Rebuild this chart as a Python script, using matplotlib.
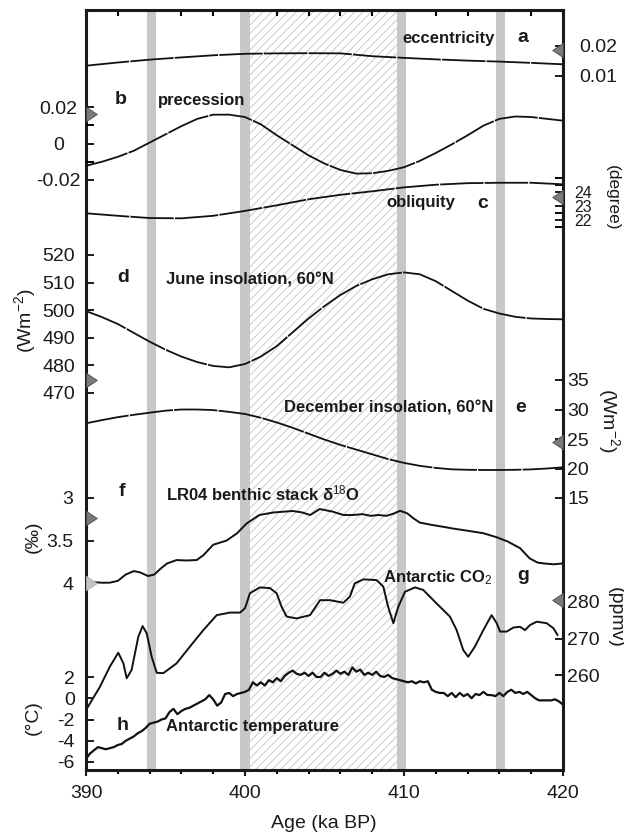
import numpy as np
import matplotlib
matplotlib.use('Agg')
import matplotlib.pyplot as plt
from matplotlib.path import Path
from matplotlib.ticker import MultipleLocator, FixedLocator, NullFormatter

plt.rcParams['font.family'] = ['Liberation Sans', 'DejaVu Sans']
plt.rcParams['mathtext.fontset'] = 'custom'
plt.rcParams['mathtext.rm'] = 'Liberation Sans'
plt.rcParams['mathtext.it'] = 'Liberation Sans:italic'
plt.rcParams['mathtext.bf'] = 'Liberation Sans:bold'
plt.rcParams['hatch.linewidth'] = 0.6

# ---------------- data ----------------
ecc_age = [390, 392, 394, 396, 398, 400, 402, 404, 406, 408, 410, 412, 414, 416, 418, 420]
ecc_val = [0.01343, 0.0145, 0.01545, 0.0162, 0.0169, 0.0174, 0.01755, 0.0176, 0.01755,
           0.0166, 0.01604, 0.01555, 0.01513, 0.0148, 0.01438, 0.0139]

prec_age = list(range(390, 421))
prec_val = [-0.0122, -0.0100, -0.0073, -0.0040, 0.0005, 0.0050, 0.0095, 0.0135, 0.0158,
            0.0158, 0.0145, 0.0105, 0.0045, -0.0010, -0.0065, -0.0110, -0.0145, -0.0165,
            -0.0163, -0.0150, -0.0130, -0.0095, -0.0052, -0.0005, 0.0045, 0.0098, 0.0135,
            0.0148, 0.0145, 0.0135, 0.0125]

obl_age = [390, 392, 394, 396, 398, 400, 402, 404, 406, 408, 410, 412, 414, 416, 418, 420]
obl_val = [22.48, 22.3, 22.14, 22.12, 22.3, 22.65, 23.05, 23.48, 23.8, 24.05, 24.33,
           24.52, 24.63, 24.66, 24.66, 24.55]

june_age = list(range(390, 421))
june_val = [499.7, 497.5, 495.0, 491.8, 488.6, 485.7, 483.2, 481.2, 479.8, 479.3, 480.5,
            483.2, 487.0, 492.0, 497.0, 501.5, 505.5, 508.8, 511.2, 513.0, 513.7, 513.0,
            510.5, 507.0, 503.5, 500.5, 498.8, 497.6, 497.0, 496.8, 496.7]

dec_age = list(range(390, 421))
dec_val = [27.66, 28.2, 28.7, 29.1, 29.46, 29.8, 30.0, 30.0, 29.9, 29.6, 29.24, 28.6, 27.8,
           26.9, 25.9, 24.9, 24.0, 23.2, 22.4, 21.6, 20.95, 20.45, 20.1, 19.86, 19.78,
           19.75, 19.75, 19.78, 19.85, 20.0, 20.2]

lr04_age = [390.0, 390.5, 391.0, 391.5, 392.0, 392.5, 393.0, 393.4, 393.9, 394.3, 394.7,
            395.1, 395.7, 396.3, 396.96, 397.4, 398.0, 398.85, 399.5, 400.1, 400.9, 401.8,
            403.0, 403.6, 404.1, 404.7, 405.5, 406.2, 406.8, 407.4, 407.9, 408.4, 408.9,
            409.4, 409.75, 410.2, 410.6, 411.0, 411.85, 412.5, 413.1, 414.0, 415.0, 415.8,
            416.5, 417.3, 417.9, 418.4, 418.8, 419.4, 420.0]
lr04_val = [3.976, 3.99, 3.997, 3.996, 3.975, 3.9, 3.86, 3.875, 3.918, 3.9, 3.83, 3.77,
            3.73, 3.735, 3.73, 3.67, 3.55, 3.50, 3.415, 3.30, 3.2, 3.17, 3.153, 3.17, 3.2,
            3.13, 3.16, 3.2, 3.2, 3.19, 3.21, 3.2, 3.21, 3.18, 3.15, 3.18, 3.24, 3.29, 3.32,
            3.34, 3.36, 3.385, 3.415, 3.46, 3.51, 3.59, 3.71, 3.76, 3.77, 3.78, 3.77]

co2_age = [390.0, 390.88, 391.5, 392.03, 392.35, 392.56, 392.87, 393.29, 393.56, 393.82,
           394.13, 394.45, 394.86, 395.7, 396.54, 397.38, 398.22, 399.06, 399.69, 400.0,
           400.31, 400.94, 401.57, 401.99, 402.3, 402.62, 403.25, 404.09, 404.72, 405.35,
           406.19, 406.6, 406.9, 407.44, 408.28, 408.7, 409.0, 409.33, 409.64, 410.06,
           410.69, 411.21, 412.05, 412.89, 413.31, 413.73, 414.04, 414.46, 414.99, 415.51,
           415.83, 416.04, 416.46, 416.88, 417.3, 417.61, 417.93, 418.35, 418.97, 419.4,
           419.65]
co2_val = [250.4, 256.8, 262.3, 266.1, 263.2, 259.1, 261.4, 270.5, 273.4, 271.4, 265.0,
           260.6, 260.5, 263.2, 267.8, 272.3, 276.4, 277.1, 277.1, 278.3, 282.4, 284.0,
           283.8, 282.4, 278.7, 276.0, 275.5, 276.4, 280.5, 280.5, 279.8, 281.5, 285.1,
           286.2, 286.0, 284.2, 278.7, 274.2, 278.7, 282.8, 284.0, 283.3, 279.6, 276.0,
           272.3, 266.8, 265.0, 267.8, 272.3, 276.4, 274.2, 271.9, 271.9, 273.0, 273.2,
           272.3, 273.7, 274.6, 274.2, 272.8, 271.0]

temp_age = [390 + 0.25 * i for i in range(121)]
temp_val = [-5.7, -5.2, -4.9, -4.6, -4.7, -4.8, -4.7, -4.6, -4.4, -4.3, -4.0, -3.8, -3.6,
            -3.3, -3.1, -2.8, -2.4, -2.3, -2.2, -2.0, -1.9, -1.3, -1.0, -1.5, -1.2, -1.0,
            -0.9, -0.7, -0.5, -0.3, -0.1, 0.3, -0.1, -0.7, -0.4, 0.4, 0.5, 0.2, 0.4, 0.5,
            0.6, 0.8, 1.5, 1.2, 1.5, 1.2, 1.7, 1.5, 1.9, 1.6, 2.1, 2.4, 2.6, 2.3, 2.2, 2.4,
            2.1, 2.4, 2.0, 2.0, 2.4, 2.1, 2.3, 2.6, 2.3, 2.5, 2.2, 2.9, 2.5, 2.7, 2.2, 2.4,
            2.2, 2.5, 2.1, 2.0, 2.2, 1.9, 1.8, 1.7, 1.6, 1.5, 1.6, 1.4, 1.6, 1.5, 1.6, 0.8,
            0.6, 0.5, 0.5, 0.2, 0.5, 0.1, 0.5, 0.2, 0.4, 0.0, 0.4, 0.3, 0.6, 0.3, 0.3, 0.2,
            0.5, 0.2, 0.6, 0.8, 0.5, 0.6, 0.4, 0.6, 0.3, 0.0, -0.2, -0.2, -0.2, -0.2, -0.1,
            -0.3, -0.6]

# event bars (start, end) and hatched interval
bar_spans = [(393.85, 394.4), (399.7, 400.3), (409.55, 410.1), (415.8, 416.35)]
hatch_span = (400.3, 409.55)

# triangle markers (mean values)
tri_prec, tri_june, tri_lr04, tri_lr04b = 0.016, 474.7, 3.24, 4.0
tri_ecc, tri_obl, tri_dec, tri_co2 = 0.0187, 23.65, 24.5, 280.5

# ---------------- layout ----------------
W, H = 624, 836
L, R, T, B = 86, 563, 10, 770
rect = [L / W, 1 - B / H, (R - L) / W, (B - T) / H]

fig = plt.figure(figsize=(W / 100, H / 100), dpi=100)
ax = fig.add_axes(rect)
ax.set_xlim(390, 420)
ax.set_ylim(0, 1)
ax.set_yticks([])
for s in ax.spines.values():
    s.set_linewidth(2.2)
    s.set_color('#1a1a1a')
ax.xaxis.set_major_locator(FixedLocator([390, 400, 410, 420]))
ax.xaxis.set_minor_locator(MultipleLocator(2))
ax.tick_params(axis='x', which='major', direction='out', length=4, width=1.5,
               labelsize=14, pad=7, colors='#1a1a1a')
ax.tick_params(axis='x', which='minor', direction='out', length=3, width=1.5)
top = ax.secondary_xaxis('top')
top.xaxis.set_major_locator(FixedLocator([400, 410]))
top.xaxis.set_minor_locator(MultipleLocator(2))
top.xaxis.set_major_formatter(NullFormatter())
top.tick_params(which='major', direction='in', length=6, width=1.5)
top.tick_params(which='minor', direction='in', length=4, width=1.5)
top.spines['top'].set_visible(False)

ax.axvspan(hatch_span[0], hatch_span[1], facecolor='white', edgecolor='#c2c2c2',
           hatch='////', linewidth=0, zorder=0)
for a0, a1 in bar_spans:
    ax.axvspan(a0, a1, color='#c6c7c9', linewidth=0, zorder=1)


def sub_axis(v1, p1, v2, p2):
    a = fig.add_axes(rect, sharex=ax)
    a.patch.set_visible(False)
    for s in a.spines.values():
        s.set_visible(False)
    slope = (v2 - v1) / (p2 - p1)
    a.set_ylim(v1 + slope * (B - p1), v1 + slope * (T - p1))
    a.tick_params(axis='x', which='both', bottom=False, top=False, labelbottom=False)
    return a


def side(a, where, ticks, labels, pad, minor=None, size=14, length=5.5, ha=None):
    if where == 'left':
        a.yaxis.tick_left()
    else:
        a.yaxis.tick_right()
    a.set_yticks(ticks)
    a.set_yticklabels(labels)
    if minor is not None:
        a.yaxis.set_minor_locator(FixedLocator(minor))
    a.tick_params(axis='y', which='major', direction='in', length=length, width=1.4,
                  labelsize=size, pad=pad, colors='#1a1a1a')
    a.tick_params(axis='y', which='minor', direction='in', length=length, width=1.4)
    if ha is not None:
        for t in a.get_yticklabels():
            t.set_ha(ha)


tri_right = Path([(0, -0.5), (0.75, 0), (0, 0.5), (0, -0.5)],
                 [Path.MOVETO, Path.LINETO, Path.LINETO, Path.CLOSEPOLY])
tri_left = Path([(0, -0.5), (-0.75, 0), (0, 0.5), (0, -0.5)],
                [Path.MOVETO, Path.LINETO, Path.LINETO, Path.CLOSEPOLY])


def triangle(a, val, where, fc='#7a7a7a', ec='#4a4a4a'):
    x = 390 if where == 'left' else 420
    m = tri_right if where == 'left' else tri_left
    a.plot([x], [val], marker=m, markersize=15.5, color=fc, markeredgecolor=ec,
           markeredgewidth=0.6, clip_on=False, zorder=6, linestyle='none')


dash = (0, (24, 0.7))
lw_orb = 1.3
lw_pro = 1.4
k = '#111111'

# a eccentricity
a_ecc = sub_axis(0.02, 46, 0.01, 76)
a_ecc.plot(ecc_age, ecc_val, color=k, lw=lw_orb, linestyle=dash)
side(a_ecc, 'right', [0.02, 0.01], ['0.02', '0.01'], pad=12)
triangle(a_ecc, tri_ecc, 'right')

# b precession
a_pre = sub_axis(0.02, 107, -0.02, 180)
a_pre.plot(prec_age, prec_val, color=k, lw=lw_orb, linestyle=dash)
side(a_pre, 'left', [0.02, 0, -0.02], ['0.02', '0', '-0.02'], pad=20,
     minor=[0.01, -0.01], ha='center')
triangle(a_pre, tri_prec, 'left')

# c obliquity
a_obl = sub_axis(24, 192, 22, 220)
a_obl.plot(obl_age, obl_val, color=k, lw=lw_orb, linestyle=dash)
side(a_obl, 'right', [24, 23, 22], ['24', '23', '22'], pad=8,
     minor=[25, 24.5, 23.5, 22.5, 21.5], size=11.5)
triangle(a_obl, tri_obl, 'right')

# d June insolation
a_jun = sub_axis(520, 255, 470, 393)
a_jun.plot(june_age, june_val, color=k, lw=lw_orb, linestyle=dash)
side(a_jun, 'left', [520, 510, 500, 490, 480, 470],
     ['520', '510', '500', '490', '480', '470'], pad=8)
triangle(a_jun, tri_june, 'left')

# e December insolation
a_dec = sub_axis(35, 380, 15, 498)
a_dec.plot(dec_age, dec_val, color=k, lw=lw_orb, linestyle=dash)
side(a_dec, 'right', [35, 30, 25, 20, 15], ['35', '30', '25', '20', '15'], pad=3)
triangle(a_dec, tri_dec, 'right')

# f LR04
a_lr = sub_axis(3.0, 498, 4.0, 583)
a_lr.plot(lr04_age, lr04_val, color=k, lw=lw_pro)
side(a_lr, 'left', [3.0, 3.5, 4.0], ['3', '3.5', '4'], pad=9)
triangle(a_lr, tri_lr04, 'left')
triangle(a_lr, tri_lr04b, 'left', fc='#c4c4c4', ec='#b0b0b0')

# g CO2
a_co2 = sub_axis(280, 602, 260, 675)
a_co2.plot(co2_age, co2_val, color=k, lw=lw_pro)
side(a_co2, 'right', [280, 270, 260], ['280', '270', '260'], pad=3)
triangle(a_co2, tri_co2, 'right')

# h temperature
a_tmp = sub_axis(2, 677, -6, 762)
a_tmp.plot(temp_age, temp_val, color=k, lw=1.6)
side(a_tmp, 'left', [2, 0, -2, -4, -6], ['2', '0', '-2', '-4', '-6'], pad=8)


# ---------------- texts ----------------
def ftext(x, y, s, **kw):
    fig.text(x / W, 1 - y / H, s, **kw)


bold = dict(fontsize=12, fontweight='bold', color='#1a1a1a', va='center')
letter = dict(fontsize=14, fontweight='bold', color='#1a1a1a', va='center', ha='center')

ftext(495, 38, 'eccentricity', ha='right', **bold)
ftext(523, 37, 'a', **letter)
ftext(121, 100, 'b', **letter)
ftext(158, 100, 'precession', ha='left', **bold)
ftext(455, 203, 'obliquity', ha='right', **bold)
ftext(483, 203, 'c', **letter)
ftext(123, 278, 'd', **letter)
ftext(166, 280, 'June insolation, 60°N', ha='left', **bold)
ftext(493, 408, 'December insolation, 60°N', ha='right', **bold)
ftext(521, 407, 'e', **letter)
ftext(122, 492, 'f', **letter)
ftext(166, 493, 'LR04 benthic stack δ$^{18}$O', ha='left', **bold)
ftext(493, 578, 'Antarctic CO$_{2}$', ha='right', **bold)
ftext(523, 575, 'g', **letter)
ftext(123, 725, 'h', **letter)
ftext(166, 727, 'Antarctic temperature', ha='left', **bold)

unit = dict(fontsize=14, color='#1a1a1a', va='center', ha='center')
wm2 = '(Wm$^{\\mathregular{-2}}$)'
ftext(25, 321, wm2, rotation=90, **unit)
ftext(609, 420, wm2, rotation=-90, **unit)
ftext(612, 198, '(degree)', rotation=-90, fontsize=12.5, color='#1a1a1a',
      va='center', ha='center')
ftext(33, 537, '(‰)', rotation=90, **unit)
ftext(615, 617, '(ppmv)', rotation=-90, **unit)
ftext(33, 718, '(°C)', rotation=90, **unit)
ftext(324, 823, 'Age (ka BP)', **unit)

fig.savefig('out.png', dpi=100)
